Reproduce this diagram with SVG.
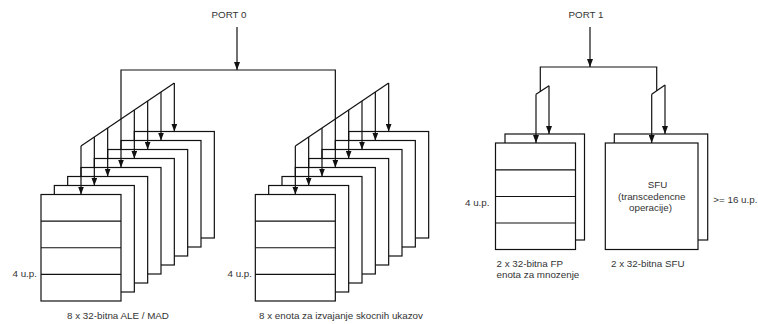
<svg xmlns="http://www.w3.org/2000/svg" width="758" height="324" viewBox="0 0 758 324">
<style>
.b{fill:#fff;stroke:#111;stroke-width:1.2}
.d{stroke:#111;stroke-width:1.2;fill:none}
.c{stroke:#111;stroke-width:1.2;fill:none}
.a{stroke:#111;stroke-width:1.2;fill:none;marker-end:url(#ah)}
text{font-family:"Liberation Sans",Arial,sans-serif;font-size:9.8px;fill:#333}
</style>
<defs>
<marker id="ah" viewBox="0 0 8 6" markerWidth="8" markerHeight="6" refX="8" refY="3" orient="auto" markerUnits="userSpaceOnUse">
<path d="M0,0 L8,3 L0,6 z" fill="#111"/>
</marker>
</defs>
<rect width="758" height="324" fill="#fff"/>

<g id="ale-mad">
<rect class="b" x="134.33" y="131.5" width="80" height="106.5"/>
<rect class="b" x="121" y="140.5" width="80" height="106.5"/>
<rect class="b" x="107.67" y="149.5" width="80" height="106.5"/>
<rect class="b" x="94.33" y="158.5" width="80" height="106.5"/>
<rect class="b" x="81" y="167.5" width="80" height="106.5"/>
<rect class="b" x="67.67" y="176.5" width="80" height="106.5"/>
<rect class="b" x="54.33" y="185.5" width="80" height="106.5"/>
<rect class="b" x="41" y="194.5" width="80" height="106.5"/>
<path class="d" d="M41,221.1 H121 M41,247.75 H121 M41,274.4 H121"/>
<text x="37" y="276.5" text-anchor="end">4 u.p.</text>
<text x="118" y="318.5" text-anchor="middle">8 x 32-bitna ALE / MAD</text>
</g>

<g id="branch-units">
<rect class="b" x="348.67" y="131.5" width="80" height="106.5"/>
<rect class="b" x="335.33" y="140.5" width="80" height="106.5"/>
<rect class="b" x="322" y="149.5" width="80" height="106.5"/>
<rect class="b" x="308.67" y="158.5" width="80" height="106.5"/>
<rect class="b" x="295.33" y="167.5" width="80" height="106.5"/>
<rect class="b" x="282" y="176.5" width="80" height="106.5"/>
<rect class="b" x="268.67" y="185.5" width="80" height="106.5"/>
<rect class="b" x="255.33" y="194.5" width="80" height="106.5"/>
<path class="d" d="M255.33,221.1 H335.33 M255.33,247.75 H335.33 M255.33,274.4 H335.33"/>
<text x="252" y="276.5" text-anchor="end">4 u.p.</text>
<text x="341" y="318.5" text-anchor="middle">8 x enota za izvajanje skocnih ukazov</text>
</g>

<g id="fp-mul">
<rect class="b" x="505" y="134" width="79.5" height="106"/>
<rect class="b" x="495.5" y="143" width="80" height="106.5"/>
<path class="d" d="M495.5,169.8 H575.5 M495.5,196.5 H575.5 M495.5,223 H575.5"/>
<text x="489.5" y="205.5" text-anchor="end">4 u.p.</text>
<text x="496.5" y="266.7">2 x 32-bitna FP</text>
<text x="496.5" y="278">enota za mnozenje</text>
</g>

<g id="sfu">
<rect class="b" x="614.3" y="134" width="93.4" height="106"/>
<rect class="b" x="605.3" y="143" width="92.7" height="106.5"/>
<text x="657.5" y="187.7" text-anchor="middle">SFU</text>
<text x="651.7" y="199.5" text-anchor="middle">(transcedencne</text>
<text x="650.5" y="211" text-anchor="middle">operacije)</text>
<text x="713.3" y="203.3">&gt;= 16 u.p.</text>
<text x="611" y="266.7">2 x 32-bitna SFU</text>
</g>

<g id="port0">
<text x="229" y="18.3" text-anchor="middle">PORT 0</text>
</g>
<g id="port1">
<text x="586" y="18.3" text-anchor="middle">PORT 1</text>
</g>

<g id="connectors">
<path class="a" d="M237,27 V70"/>
<path class="c" d="M121,119 V70 H335.33 V119"/>
<path class="c" d="M81,146 L174.33,83"/>
<path class="a" d="M81,146 V194.5"/>
<path class="a" d="M94.33,137 V185.5"/>
<path class="a" d="M107.67,128 V176.5"/>
<path class="a" d="M121,119 V167.5"/>
<path class="a" d="M134.33,110 V158.5"/>
<path class="a" d="M147.67,101 V149.5"/>
<path class="a" d="M161,92 V140.5"/>
<path class="a" d="M174.33,83 V131.5"/>
<path class="c" d="M295.33,146 L388.67,83"/>
<path class="a" d="M295.33,146 V194.5"/>
<path class="a" d="M308.67,137 V185.5"/>
<path class="a" d="M322,128 V176.5"/>
<path class="a" d="M335.33,119 V167.5"/>
<path class="a" d="M348.67,110 V158.5"/>
<path class="a" d="M362,101 V149.5"/>
<path class="a" d="M375.33,92 V140.5"/>
<path class="a" d="M388.67,83 V131.5"/>
<path class="a" d="M590,27 V67"/>
<path class="c" d="M540.3,91.5 V67 H656.7 V90.8"/>
<path class="c" d="M536,94.3 L549,85.7"/>
<path class="a" d="M536,94.3 V143"/>
<path class="a" d="M549,85.7 V134"/>
<path class="c" d="M651.7,94.3 L665,85"/>
<path class="a" d="M651.7,94.3 V143"/>
<path class="a" d="M665,85 V134"/>
</g>
</svg>
